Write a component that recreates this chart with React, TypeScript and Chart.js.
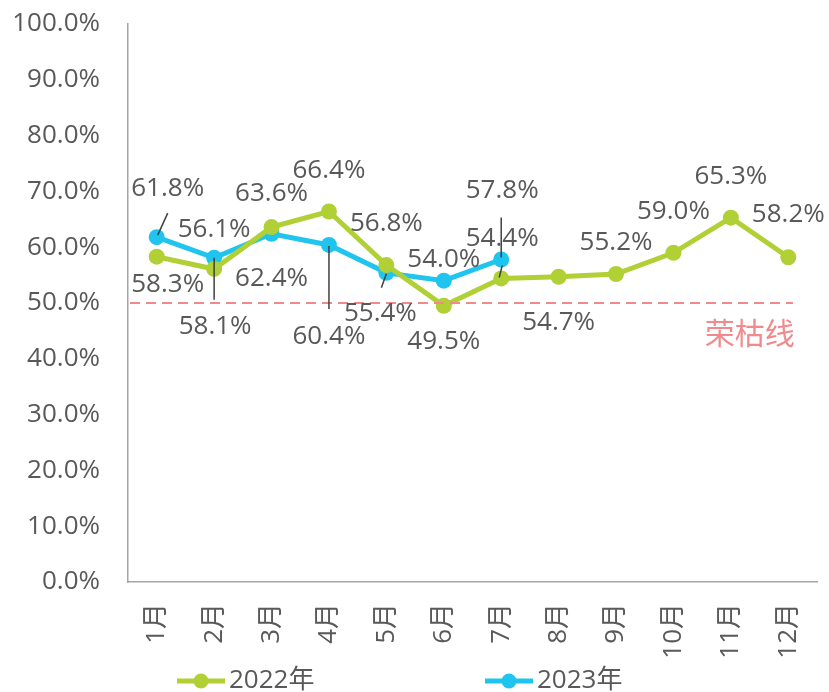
import React, { useEffect, useRef } from "react";
import { Chart, registerables } from "chart.js";
Chart.register(...registerables);

const categories = ["1月", "2月", "3月", "4月", "5月", "6月", "7月", "8月", "9月", "10月", "11月", "12月"];
const series2022 = [58.3, 56.1, 63.6, 66.4, 56.8, 49.5, 54.4, 54.7, 55.2, 59.0, 65.3, 58.2];
const series2023 = [61.8, 58.1, 62.4, 60.4, 55.4, 54.0, 57.8];
const seriesNames = ["2022年", "2023年"];
const yTicks = [0, 10, 20, 30, 40, 50, 60, 70, 80, 90, 100];
const thresholdValue = 50;
const thresholdLabel = "荣枯线";

const GREEN = "#B0D035";
const BLUE = "#1FC5EE";
const CORAL = "#F28A8C";
const TEXT = "#595959";
const FONT = '"Open Sans", "Noto Sans CJK SC", sans-serif';

// label offsets relative to point (dx, dy), optional leader line [x1,y1,x2,y2] relative to point
const labelLayout2022: [number, number, number[] | null][] = [
  [11, 28, null],
  [0, -39, null],
  [0, -34, null],
  [0, -41, null],
  [0, -41, null],
  [0, 36, null],
  [1, -40, [1, -13, -2, -1]],
  [0, 46, null],
  [0, -31, null],
  [0, -41, null],
  [0, -41, null],
  [0, -43, null],
];
const labelLayout2023: [number, number, number[] | null][] = [
  [11, -49, [11, -24, 1, -2]],
  [1, 69, [0, 0, 0, 42]],
  [0, 45, null],
  [0, 92, [0, 1, 0, 64]],
  [-6, 41, [0, 1, -5, 15]],
  [0, -21, null],
  [1, -69, [0, -42, 0, -2]],
];

const labelPlugin = {
  id: "customLabels",
  afterDatasetsDraw(chart: any) {
    const ctx = chart.ctx;
    const y = chart.scales.y;
    const area = chart.chartArea;
    // threshold line
    const ty = y.getPixelForValue(thresholdValue);
    ctx.save();
    ctx.strokeStyle = CORAL;
    ctx.lineWidth = 2;
    ctx.setLineDash([10, 6]);
    ctx.beginPath();
    ctx.moveTo(area.left + 2, ty);
    ctx.lineTo(area.right - 24, ty);
    ctx.stroke();
    ctx.setLineDash([]);
    ctx.fillStyle = CORAL;
    ctx.font = `30px ${FONT}`;
    ctx.textAlign = "center";
    ctx.textBaseline = "middle";
    ctx.fillText(thresholdLabel, chart.scales.x.getPixelForValue(10.33), ty + 32);
    ctx.restore();

    const layouts = [labelLayout2022, labelLayout2023];
    chart.data.datasets.forEach((ds: any, di: number) => {
      const meta = chart.getDatasetMeta(di);
      meta.data.forEach((pt: any, i: number) => {
        const lay = layouts[di][i];
        if (!lay) return;
        const [dx, dy, leader] = lay;
        ctx.save();
        if (leader) {
          ctx.strokeStyle = "#404040";
          ctx.lineWidth = 1.5;
          ctx.beginPath();
          ctx.moveTo(pt.x + leader[0], pt.y + leader[1]);
          ctx.lineTo(pt.x + leader[2], pt.y + leader[3]);
          ctx.stroke();
        }
        ctx.fillStyle = TEXT;
        ctx.font = `26px ${FONT}`;
        ctx.textAlign = "center";
        ctx.textBaseline = "middle";
        ctx.fillText(ds.data[i].toFixed(1) + "%", pt.x + dx, pt.y + dy);
        ctx.restore();
      });
    });

    // legend
    const ly = 681;
    const items = [
      { x: 177, color: GREEN, text: seriesNames[0] },
      { x: 485, color: BLUE, text: seriesNames[1] },
    ];
    items.forEach((it) => {
      ctx.save();
      ctx.strokeStyle = it.color;
      ctx.lineWidth = 5;
      ctx.beginPath();
      ctx.moveTo(it.x, ly);
      ctx.lineTo(it.x + 48, ly);
      ctx.stroke();
      ctx.fillStyle = it.color;
      ctx.beginPath();
      ctx.arc(it.x + 24, ly, 7.5, 0, Math.PI * 2);
      ctx.fill();
      ctx.fillStyle = TEXT;
      ctx.font = `26px ${FONT}`;
      ctx.textAlign = "left";
      ctx.textBaseline = "middle";
      ctx.fillText(it.text, it.x + 52, ly);
      ctx.restore();
    });
  },
};

export default function App() {
  const ref = useRef<HTMLCanvasElement>(null);
  useEffect(() => {
    document.body.style.margin = "0";
    const chart = new Chart(ref.current as HTMLCanvasElement, {
      type: "line",
      data: {
        labels: categories,
        datasets: [
          {
            label: seriesNames[0],
            data: series2022,
            borderColor: GREEN,
            backgroundColor: GREEN,
            borderWidth: 5,
            pointRadius: 8,
            pointHoverRadius: 8,
            pointBorderWidth: 0,
            tension: 0,
          },
          {
            label: seriesNames[1],
            data: series2023,
            borderColor: BLUE,
            backgroundColor: BLUE,
            borderWidth: 5,
            pointRadius: 8,
            pointHoverRadius: 8,
            pointBorderWidth: 0,
            tension: 0,
          },
        ],
      },
      options: {
        animation: false,
        responsive: false,
        maintainAspectRatio: false,
        layout: { padding: { top: 24, right: 12, left: 0, bottom: 0 } },
        plugins: {
          legend: { display: false },
          tooltip: { enabled: false },
        },
        scales: {
          x: {
            offset: true,
            grid: { display: false, drawTicks: false },
            border: { display: true, color: "#A6A6A6", width: 1.5 },
            ticks: {
              color: TEXT,
              font: { size: 26, family: FONT },
              minRotation: 90,
              maxRotation: 90,
              padding: 21,
              autoSkip: false,
            },
            afterFit(scale: any) {
              scale.height = 110;
              scale.paddingLeft = 0;
              scale.paddingRight = 0;
            },
          },
          y: {
            min: 0,
            max: 100,
            grid: { display: false, drawTicks: false },
            border: { display: true, color: "#A6A6A6", width: 1.5 },
            afterBuildTicks(scale: any) {
              scale.ticks = yTicks.map((v) => ({ value: v }));
            },
            ticks: {
              color: TEXT,
              font: { size: 26, family: FONT },
              padding: 28,
              callback: (v: any) => Number(v).toFixed(1) + "%",
            },
            afterFit(scale: any) {
              scale.width = 128;
              scale.paddingTop = 0;
              scale.paddingBottom = 0;
            },
          },
        },
      },
      plugins: [labelPlugin],
    });
    return () => chart.destroy();
  }, []);
  return <canvas ref={ref} width={829} height={692} style={{ display: "block" }} />;
}
